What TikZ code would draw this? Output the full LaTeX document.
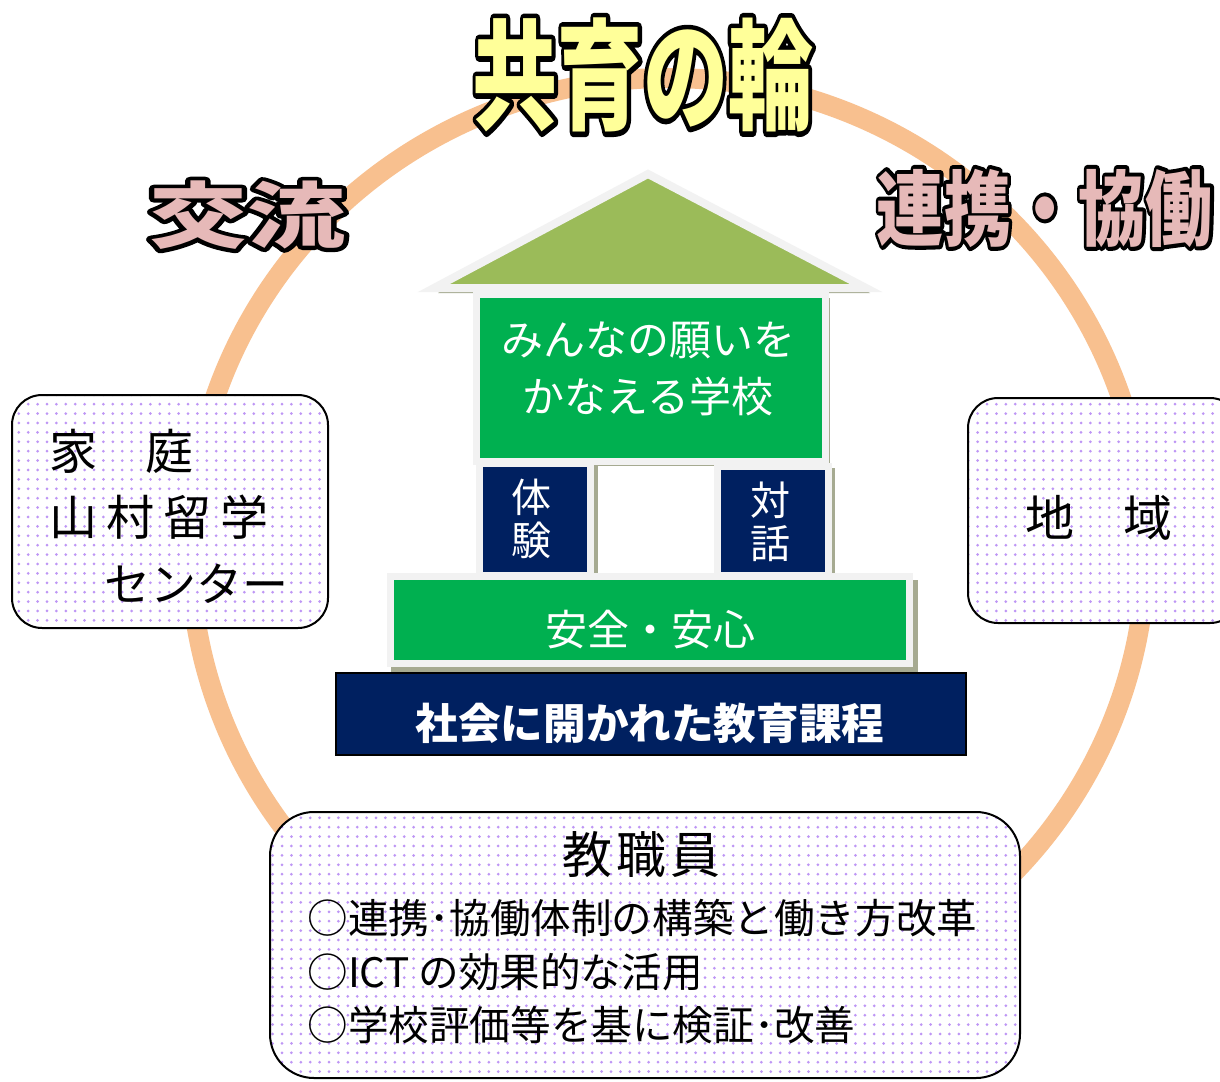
\documentclass[tikz,border=0pt]{standalone}
\usepackage{fontspec}
\newfontfamily\jp{Noto Sans CJK JP}
\newfontfamily\ttlK[BoldFeatures={FakeBold=8.5}]{Noto Sans CJK JP}
\newfontfamily\korK[BoldFeatures={FakeBold=11}]{Noto Sans CJK JP}
\newfontfamily\renK[BoldFeatures={FakeBold=9.8}]{Noto Sans CJK JP}
\usetikzlibrary{patterns.meta}
\definecolor{ringc}{RGB}{248,192,143}
\definecolor{titley}{RGB}{255,255,153}
\definecolor{pinkc}{RGB}{230,185,184}
\definecolor{roofg}{RGB}{155,187,89}
\definecolor{greenc}{RGB}{0,176,80}
\definecolor{navyc}{RGB}{0,32,96}
\definecolor{lightb}{RGB}{242,242,242}
\definecolor{shadowc}{RGB}{166,170,145}
\definecolor{lavc}{RGB}{190,150,245}
\newcommand\ks{\kern4.5pt}
\newcommand\rj{\special{pdf:literal direct 1 j}}
\tikzset{
  gbox/.style={rectangle, fill=greenc, draw=lightb, line width=3.5pt, inner sep=0pt},
  nbox/.style={rectangle, fill=navyc, draw=lightb, line width=3.5pt, inner sep=0pt},
  dotbox/.style={rectangle, rounded corners=15pt, draw=black, line width=1pt,
     preaction={fill=white}, pattern={Dots[distance=4.7pt, radius=0.75pt]}, pattern color=lavc, inner sep=0pt},
  wtext/.style={text=white, inner sep=0pt, align=center},
  btext/.style={text=black, inner sep=0pt, align=left},
}
\begin{document}
\begin{tikzpicture}[x=0.5pt,y=-0.5pt]
\useasboundingbox (0,0) rectangle (1220,1081);
\clip (0,0) rectangle (1220,1081);
\fill[white] (0,0) rectangle (1220,1081);

% ring
\draw[ringc, line width=10pt] (668,548) ellipse [x radius=478, y radius=470];

% roof
\fill[shadowc] (438,293) -- (651,180) -- (870,293) -- cycle;
\draw[fill=roofg, draw=lightb, line width=4pt, line join=miter, miter limit=20]
  (434,288) -- (648,174) -- (866,288) -- cycle;

% main box
\fill[shadowc] (480,298) rectangle (830,466);
\node[gbox, minimum width=174.5pt, minimum height=83.5pt] (main) at (651,378) {};
\node[wtext, font={\jp\fontsize{21pt}{28.5pt}\selectfont}] (mainT) at (648,369)
  {みんなの願いを\\かなえる学校};

% pillars
\fill[shadowc] (479,466) rectangle (598,578);
\fill[shadowc] (717,468) rectangle (835,578);
\node[nbox, minimum width=55.5pt, minimum height=56pt] (p1) at (535,519.5) {};
\node[nbox, minimum width=55.5pt, minimum height=54.5pt] (p2) at (773,521) {};
\node[wtext, font={\jp\fontsize{20pt}{21.5pt}\selectfont}] (p1T) at (531,519) {体\\験};
\node[wtext, font={\jp\fontsize{20pt}{21.5pt}\selectfont}] (p2T) at (770,522) {対\\話};

% anzen
\fill[shadowc] (391,580) rectangle (918,673);
\node[gbox, minimum width=259.5pt, minimum height=43.5pt] (anzen) at (650,620) {};
\node[wtext, font={\jp\fontsize{21pt}{21pt}\selectfont}] (anzenT) at (650,630) {安全・安心};

% shakai
\node[rectangle, fill=navyc, draw=black, line width=0.75pt, minimum width=315pt, minimum height=41pt] (shakai) at (651,714) {};
\node[wtext, font={\jp\bfseries\fontsize{21.3pt}{21.3pt}\selectfont}] (shakaiT) at (650,723) {社会に開かれた教育課程};

% left box
\node[dotbox, minimum width=158pt, minimum height=116.5pt] (lbox) at (170,511.5) {};
\node[btext, anchor=north west, font={\jp\fontsize{24pt}{33pt}\selectfont}] (lboxT) at (49,429)
  {家　庭\\山\ks 村\ks 留\ks 学\\\hspace*{27.5pt}{\fontsize{23pt}{33pt}\selectfont センター}};

% right box
\node[dotbox, minimum width=136pt, minimum height=112.5pt] (rbox) at (1104,510.5) {};
\node[btext, font={\jp\fontsize{24.5pt}{24.5pt}\selectfont}] (rboxT) at (1099,518) {地　域};

% bottom box
\node[dotbox, rounded corners=22pt, minimum width=375pt, minimum height=133pt] (bbox) at (645,945) {};
\node[btext, font={\jp\fontsize{25pt}{25pt}\selectfont}] (kyo) at (641,855) {教\kern2pt 職\kern2pt 員};
\node[btext, anchor=west, font={\jp\fontsize{20.3pt}{20.3pt}\selectfont}] (l1) at (307,918) {○連携･協働体制の構築と働き方改革};
\node[btext, anchor=west, font={\jp\fontsize{20.3pt}{20.3pt}\selectfont}] (l2) at (307,972) {○ICT の効果的な活用};
\node[btext, anchor=west, font={\jp\fontsize{20.3pt}{20.3pt}\selectfont}] (l3) at (307,1025) {○学校評価等を基に検証･改善};

% outlined titles: black stroked copy under the coloured text
\node[inner sep=0pt, text=black, font={\ttlK\bfseries\fontsize{60pt}{60pt}\selectfont}] (titleK) at (643,75) {\rj\scalebox{0.71}[1]{共育の輪}};
\node[inner sep=0pt, text=titley, font={\jp\bfseries\fontsize{60pt}{60pt}\selectfont}] (title) at (643,75) {\scalebox{0.71}[1]{共育の輪}};
\node[inner sep=0pt, text=black, font={\korK\bfseries\fontsize{36pt}{36pt}\selectfont}] (koryuK) at (247,215) {\rj\scalebox{1.36}[1]{交流}};
\node[inner sep=0pt, text=pinkc, font={\jp\bfseries\fontsize{36pt}{36pt}\selectfont}] (koryu) at (247,215) {\scalebox{1.36}[1]{交流}};
\node[inner sep=0pt, text=black, font={\renK\bfseries\fontsize{41pt}{41pt}\selectfont}] (renkeiK) at (1045,208) {\rj\scalebox{0.82}[1]{連携・協働}};
\node[inner sep=0pt, text=pinkc, font={\jp\bfseries\fontsize{41pt}{41pt}\selectfont}] (renkei) at (1045,208) {\scalebox{0.82}[1]{連携・協働}};
\end{tikzpicture}
\end{document}
